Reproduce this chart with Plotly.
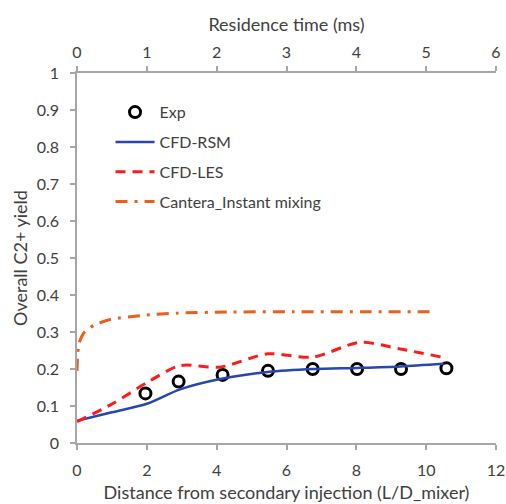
import plotly.graph_objects as go

# Data
exp_x = [1.96, 2.91, 4.17, 5.47, 6.75, 8.02, 9.28, 10.58]
exp_y = [0.134, 0.166, 0.184, 0.195, 0.200, 0.200, 0.200, 0.202]

rsm_x = [0, 1.0, 2.0, 2.95, 4.1, 5.46, 6.79, 8.02, 9.26, 10.5]
rsm_y = [0.060, 0.083, 0.106, 0.145, 0.173, 0.192, 0.200, 0.203, 0.207, 0.214]

les_x = [0, 1.0, 2.0, 2.95, 4.1, 5.46, 6.75, 8.1, 9.26, 10.45]
les_y = [0.058, 0.105, 0.163, 0.209, 0.205, 0.241, 0.232, 0.272, 0.254, 0.232]

cantera_t = [0, 0.01, 0.03, 0.1, 0.24, 0.48, 0.95, 1.43, 2.15, 3.1, 4.2, 5.15]
cantera_y = [0.195, 0.24, 0.27, 0.298, 0.318, 0.334, 0.345, 0.351, 0.354, 0.355, 0.355, 0.355]

x_ticks = [0, 2, 4, 6, 8, 10, 12]
t_ticks = [0, 1, 2, 3, 4, 5, 6]
y_ticks = [0, 0.1, 0.2, 0.3, 0.4, 0.5, 0.6, 0.7, 0.8, 0.9, 1]

FONT = "Lato"
TXT = "#404040"
AX = "#A6A6A6"

fig = go.Figure()
fig.add_trace(go.Scatter(
    x=exp_x, y=exp_y, mode="markers", name="Exp", legendgroup="a",
    marker=dict(symbol="circle-open", size=11, color="black", line=dict(width=3, color="black")),
))
fig.add_trace(go.Scatter(
    x=rsm_x, y=rsm_y, mode="lines", name="CFD-RSM", legendgroup="b",
    line=dict(color="#2746B0", width=2.5, shape="spline", smoothing=0.8),
))
fig.add_trace(go.Scatter(
    x=les_x, y=les_y, mode="lines", name="CFD-LES", legendgroup="c",
    line=dict(color="#FF1A1A", width=3, dash="10px,7px", shape="spline", smoothing=0.8),
))
fig.add_trace(go.Scatter(
    x=cantera_t, y=cantera_y, mode="lines", name="Cantera_Instant mixing", legendgroup="d",
    xaxis="x2",
    line=dict(color="#E8601C", width=3, dash="12px,7px,3px,7px", shape="spline", smoothing=0.6),
))

axis_common = dict(
    showline=True, linecolor=AX, linewidth=1.5, showgrid=False, zeroline=False,
    ticks="outside", tickcolor=AX, ticklen=5, tickwidth=1.5, automargin=False,
    tickfont=dict(family=FONT, size=16, color=TXT),
)

fig.update_layout(
    width=506, height=504,
    paper_bgcolor="white", plot_bgcolor="white",
    margin=dict(l=77, r=10, t=73, b=61),
    font=dict(family=FONT, size=16, color=TXT),
    xaxis=dict(range=[0, 12], tickvals=x_ticks, anchor="y", ticklabelstandoff=7,
               title=dict(text="Distance from secondary injection (L/D_mixer)",
                          font=dict(family=FONT, size=18, color=TXT), standoff=8),
               **axis_common),
    xaxis2=dict(range=[0, 6], tickvals=t_ticks, overlaying="x", side="top", anchor="y",
                ticklabelstandoff=2,
                title=dict(text="Residence time (ms)",
                           font=dict(family=FONT, size=18, color=TXT), standoff=6),
                **axis_common),
    yaxis=dict(range=[0, 1], tickvals=y_ticks, ticklabelstandoff=8,
               title=dict(text="Overall C2+ yield",
                          font=dict(family=FONT, size=18, color=TXT), standoff=4),
               **axis_common),
    legend=dict(x=0.08, y=0.94, xanchor="left", yanchor="top", itemwidth=39,
                bgcolor="rgba(0,0,0,0)", traceorder="grouped", tracegroupgap=6,
                font=dict(family=FONT, size=16, color=TXT)),
    showlegend=True,
)

fig.write_html("out.html", post_script="document.body.style.margin='0';",
               config={"displayModeBar": False})
